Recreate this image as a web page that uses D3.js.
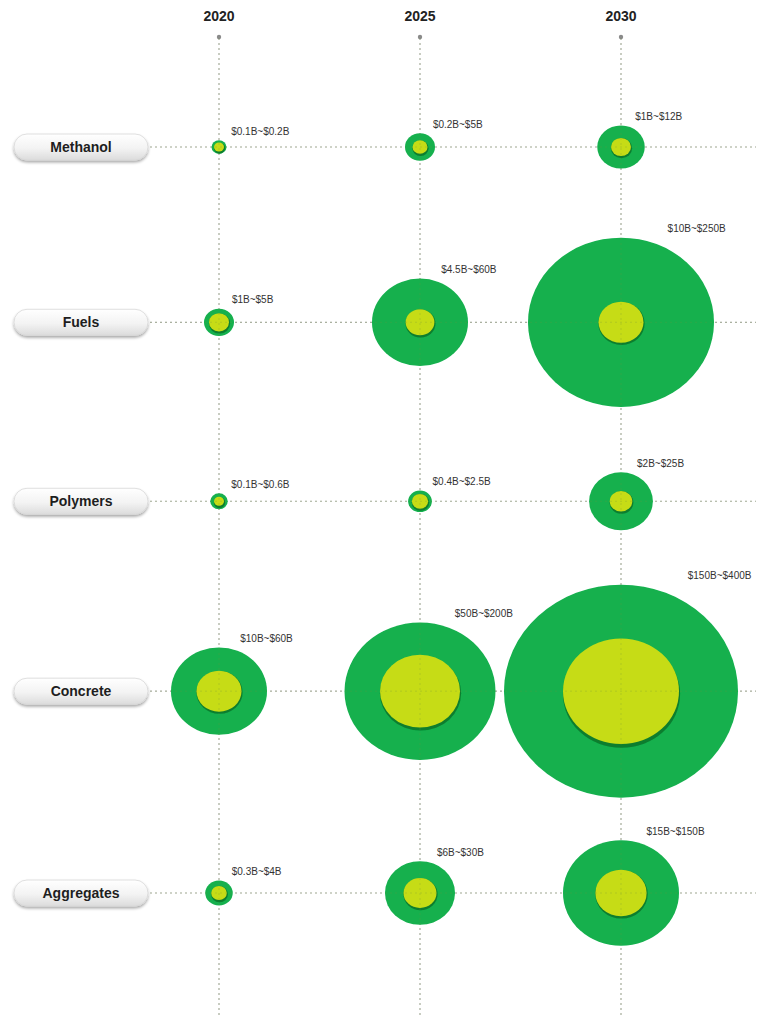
<!DOCTYPE html>
<html>
<head>
<meta charset="utf-8">
<script src="https://cdn.jsdelivr.net/npm/d3@7"></script>
<style>
  html, body { margin: 0; padding: 0; background: #ffffff; }
  svg { display: block; }
</style>
</head>
<body>
<svg id="chart" width="775" height="1019"></svg>
<script>
// Market size ranges (billions USD): lower and upper bound per product and year
const categories = ["Methanol", "Fuels", "Polymers", "Concrete", "Aggregates"];
const years = ["2020", "2025", "2030"];
const lowValues = [
  [0.1, 0.2, 1],
  [1, 4.5, 10],
  [0.1, 0.4, 2],
  [10, 50, 150],
  [0.3, 6, 15]
];
const highValues = [
  [0.2, 5, 12],
  [5, 60, 250],
  [0.6, 2.5, 25],
  [60, 200, 400],
  [4, 30, 150]
];
const lowLabels = [
  ["$0.1B", "$0.2B", "$1B"],
  ["$1B", "$4.5B", "$10B"],
  ["$0.1B", "$0.4B", "$2B"],
  ["$10B", "$50B", "$150B"],
  ["$0.3B", "$6B", "$15B"]
];
const highLabels = [
  ["$0.2B", "$5B", "$12B"],
  ["$5B", "$60B", "$250B"],
  ["$0.6B", "$2.5B", "$25B"],
  ["$60B", "$200B", "$400B"],
  ["$4B", "$30B", "$150B"]
];

const W = 775, H = 1019;
const svg = d3.select("#chart");
const defs = svg.append("defs");

// bubble radius scale (piecewise, grows quickly for small markets)
const r = d3.scaleLinear()
  .domain([0, 0.1, 0.2, 1, 5, 10, 30, 50, 60, 150, 250, 400])
  .range([0, 5, 7.5, 10, 15, 22.5, 35, 40, 48, 58, 93, 117]);
const squash = 0.91;   // bubbles are drawn slightly wider than tall

const x = d3.scalePoint().domain(years).range([219, 621]);

// rows are spaced by a fixed gap plus half the extent of the largest bubbles
const rowHalf = highValues.map(row => d3.max(row, v => r(v) * squash));
const offsets = [0];
for (let i = 1; i < categories.length; i++) {
  offsets.push(offsets[i - 1] + 122 + 0.5 * (rowHalf[i - 1] + rowHalf[i]));
}
const yPos = d3.scaleLinear()
  .domain([0, offsets[offsets.length - 1]])
  .range([147, 893]);
const y = c => yPos(offsets[categories.indexOf(c)]);

// gradients and shadows
const pillGrad = defs.append("linearGradient")
  .attr("id", "pillGrad").attr("x1", 0).attr("y1", 0).attr("x2", 0).attr("y2", 1);
pillGrad.append("stop").attr("offset", "0%").attr("stop-color", "#ffffff");
pillGrad.append("stop").attr("offset", "55%").attr("stop-color", "#f3f3f3");
pillGrad.append("stop").attr("offset", "100%").attr("stop-color", "#dcdcdc");

const pillShadow = defs.append("filter").attr("id", "pillShadow")
  .attr("x", "-10%").attr("y", "-40%").attr("width", "120%").attr("height", "180%");
pillShadow.append("feGaussianBlur").attr("in", "SourceAlpha").attr("stdDeviation", 1.6);
pillShadow.append("feOffset").attr("dx", 0).attr("dy", 1.5).attr("result", "ob");
pillShadow.append("feComponentTransfer").append("feFuncA").attr("type", "linear").attr("slope", 0.35);
const pm = pillShadow.append("feMerge");
pm.append("feMergeNode");
pm.append("feMergeNode").attr("in", "SourceGraphic");

const soft = defs.append("filter").attr("id", "soft");
soft.append("feGaussianBlur").attr("stdDeviation", 0.6);

// grid
const gridColor = "#b9b9b9";
const gGrid = svg.append("g");
years.forEach(yr => {
  gGrid.append("line")
    .attr("x1", x(yr)).attr("x2", x(yr))
    .attr("y1", 38).attr("y2", 1016)
    .attr("stroke", gridColor).attr("stroke-width", 1.2)
    .attr("stroke-dasharray", "2,3");
  gGrid.append("circle")
    .attr("cx", x(yr)).attr("cy", 37).attr("r", 2.2)
    .attr("fill", "#8a8a8a");
});
categories.forEach(c => {
  gGrid.append("line")
    .attr("x1", 150).attr("x2", 756)
    .attr("y1", y(c)).attr("y2", y(c))
    .attr("stroke", gridColor).attr("stroke-width", 1.2)
    .attr("stroke-dasharray", "2,3");
});

// year headers
svg.append("g").selectAll("text").data(years).join("text")
  .attr("x", d => x(d)).attr("y", 17)
  .attr("text-anchor", "middle").attr("dominant-baseline", "middle")
  .attr("font-family", "'Liberation Sans', Arial, sans-serif")
  .attr("font-weight", "bold").attr("font-size", 14)
  .attr("fill", "#222")
  .text(d => d);

// row labels
const gRow = svg.append("g");
categories.forEach(c => {
  gRow.append("rect")
    .attr("x", 14).attr("y", y(c) - 13)
    .attr("width", 134).attr("height", 26)
    .attr("rx", 13).attr("ry", 13)
    .attr("fill", "url(#pillGrad)")
    .attr("stroke", "#d8d8d8").attr("stroke-width", 0.8)
    .attr("filter", "url(#pillShadow)");
  gRow.append("text")
    .attr("x", 81).attr("y", y(c) + 1)
    .attr("text-anchor", "middle").attr("dominant-baseline", "middle")
    .attr("font-family", "'Liberation Sans', Arial, sans-serif")
    .attr("font-weight", "bold").attr("font-size", 14)
    .attr("fill", "#1e1e1e")
    .text(c);
});

// bubbles
const cells = [];
categories.forEach((c, i) => {
  years.forEach((yr, j) => {
    cells.push({
      cat: c, year: yr,
      low: lowValues[i][j], high: highValues[i][j],
      label: lowLabels[i][j] + "~" + highLabels[i][j]
    });
  });
});

const gB = svg.append("g").attr("filter", "url(#soft)");
cells.forEach(d => {
  const cx = x(d.year), cy = y(d.cat);
  const ro = r(d.high), ri = r(d.low);
  gB.append("ellipse")
    .attr("cx", cx).attr("cy", cy)
    .attr("rx", ro).attr("ry", ro * squash)
    .attr("fill", "#13b04d");
  // dark rim under the inner bubble
  gB.append("ellipse")
    .attr("cx", cx + 0.5).attr("cy", cy + Math.max(1.2, ri * 0.05))
    .attr("rx", ri + 0.6).attr("ry", ri * squash + 1)
    .attr("fill", "#0e7d2e");
  gB.append("ellipse")
    .attr("cx", cx).attr("cy", cy)
    .attr("rx", ri).attr("ry", ri * squash)
    .attr("fill", "#c6dc16");
});

// faint grid crossing the bubbles
const gOver = svg.append("g").attr("opacity", 0.25);
years.forEach(yr => {
  gOver.append("line")
    .attr("x1", x(yr)).attr("x2", x(yr)).attr("y1", 38).attr("y2", 1016)
    .attr("stroke", "#6f8f3a").attr("stroke-dasharray", "2,3");
});
categories.forEach(c => {
  gOver.append("line")
    .attr("x1", 150).attr("x2", 756).attr("y1", y(c)).attr("y2", y(c))
    .attr("stroke", "#6f8f3a").attr("stroke-dasharray", "2,3");
});

// range labels, pushed further right for the larger bubbles
svg.append("g").selectAll("text").data(cells).join("text")
  .attr("x", d => x(d.year) + 12 + r(d.high) * r(d.high) / 250)
  .attr("y", d => y(d.cat) - r(d.high) * squash - 8)
  .attr("dominant-baseline", "middle")
  .attr("font-family", "'Liberation Sans', Arial, sans-serif")
  .attr("font-size", 10)
  .attr("fill", "#333")
  .text(d => d.label);
</script>
</body>
</html>
